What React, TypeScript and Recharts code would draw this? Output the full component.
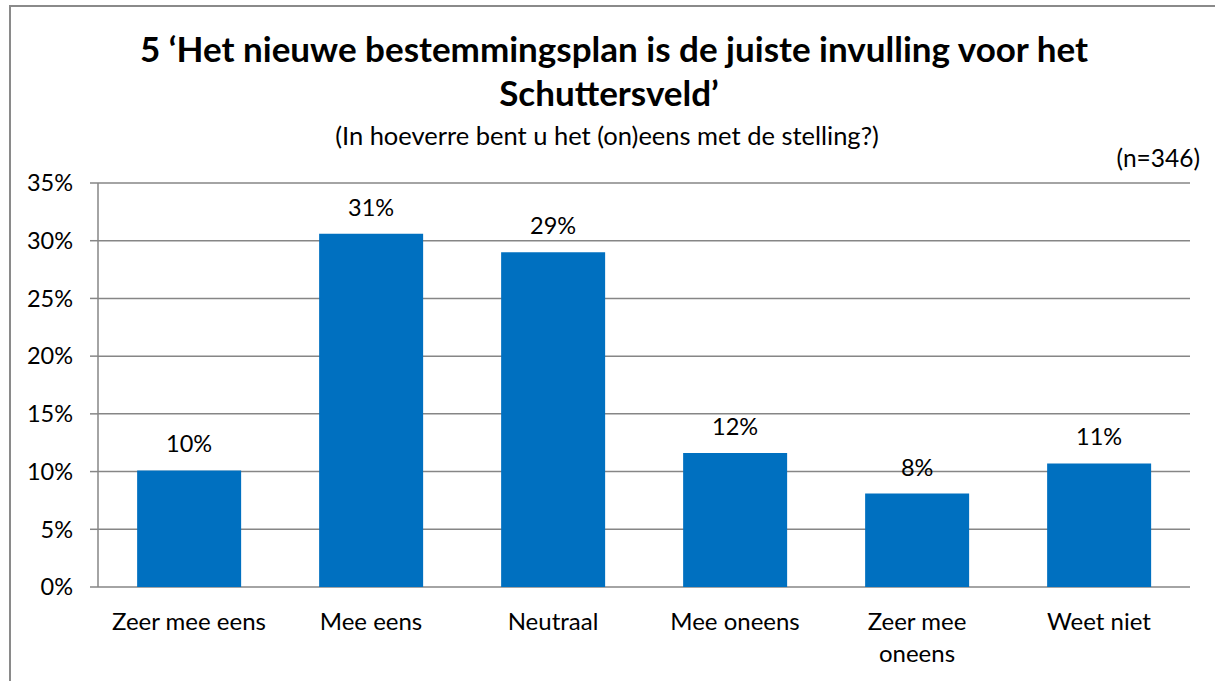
import React from 'react';
import { BarChart, Bar, XAxis, YAxis, CartesianGrid, LabelList } from 'recharts';

const categories = ['Zeer mee eens', 'Mee eens', 'Neutraal', 'Mee oneens', 'Zeer mee\noneens', 'Weet niet'];
const values = [10.1, 30.6, 29.0, 11.6, 8.1, 10.7];
const yTicks = [0, 5, 10, 15, 20, 25, 30, 35];
const edgeTicks = [0, 1, 2, 3, 4, 5, 6];

const titleLine1 = '5 \u2018Het nieuwe bestemmingsplan is de juiste invulling voor het';
const titleLine2 = 'Schuttersveld\u2019';
const subtitle = '(In hoeverre bent u het (on)eens met de stelling?)';
const sampleNote = '(n=346)';

const data = categories.map((c, i) => ({ name: c, value: values[i] }));

const FONT = 'Lato, "Open Sans", sans-serif';
const GRID = '#868686';

const CatTick = (props: any) => {
  const { x, y, payload } = props;
  const lines = String(payload.value).split('\n');
  return (
    <text x={x} y={y} textAnchor="middle" fontFamily={FONT} fontSize={24} fill="#000">
      {lines.map((l: string, i: number) => (
        <tspan key={i} x={x} dy={i === 0 ? '0.68em' : 32}>
          {l}
        </tspan>
      ))}
    </text>
  );
};

export default function App() {
  return (
    <div style={{ position: 'absolute', left: 0, top: 0, width: 1215, height: 681, overflow: 'hidden', background: '#fff' }}>
      <div
        style={{
          position: 'absolute',
          left: 9,
          top: 5,
          width: 1300,
          height: 800,
          borderLeft: '2px solid #8a8a8a',
          borderTop: '2px solid #8a8a8a',
        }}
      />
      <svg width={1215} height={681} style={{ position: 'absolute', left: 0, top: 0 }}>
        <text x={614} y={62} textAnchor="middle" fontFamily={FONT} fontWeight={700} fontSize={35} fill="#000">
          {titleLine1}
        </text>
        <text x={609} y={106} textAnchor="middle" fontFamily={FONT} fontWeight={700} fontSize={35} fill="#000">
          {titleLine2}
        </text>
        <text x={607} y={145} textAnchor="middle" fontFamily={FONT} fontSize={25.5} fill="#000">
          {subtitle}
        </text>
        <text x={1200} y={167} textAnchor="end" fontFamily={FONT} fontSize={24.5} fill="#000">
          {sampleNote}
        </text>
      </svg>
      <div style={{ position: 'absolute', left: 0, top: 0 }}>
        <BarChart
          width={1215}
          height={681}
          data={data}
          margin={{ top: 183, right: 25, bottom: 34, left: 10 }}
          barCategoryGap="21.5%"
        >
          <CartesianGrid vertical={false} stroke={GRID} strokeWidth={1.5} />
          <XAxis
            xAxisId="edge"
            type="number"
            domain={[0, 6]}
            ticks={edgeTicks}
            allowDataOverflow
            height={0}
            tick={false}
            tickSize={8}
            axisLine={{ stroke: GRID, strokeWidth: 1.5 }}
            tickLine={{ stroke: GRID, strokeWidth: 1.5 }}
          />
          <XAxis
            xAxisId="cat"
            dataKey="name"
            type="category"
            height={60}
            axisLine={false}
            tickLine={false}
            tickSize={0}
            tickMargin={27}
            interval={0}
            tick={<CatTick />}
          />
          <YAxis
            width={88}
            domain={[0, 35]}
            ticks={yTicks}
            tickFormatter={(v: number) => `${v}%`}
            tickSize={8}
            tickMargin={17}
            axisLine={{ stroke: GRID, strokeWidth: 1.5 }}
            tickLine={{ stroke: GRID, strokeWidth: 1.5 }}
            tick={{ fontFamily: FONT, fontSize: 23.5, fill: '#000' }}
          />
          <Bar dataKey="value" xAxisId="cat" fill="#0070C0" isAnimationActive={false}>
            <LabelList
              dataKey="value"
              position="top"
              offset={18}
              formatter={(v: any) => `${Math.round(Number(v))}%`}
              style={{ fontFamily: FONT, fontSize: 23.5, fill: '#000' }}
            />
          </Bar>
        </BarChart>
      </div>
    </div>
  );
}
